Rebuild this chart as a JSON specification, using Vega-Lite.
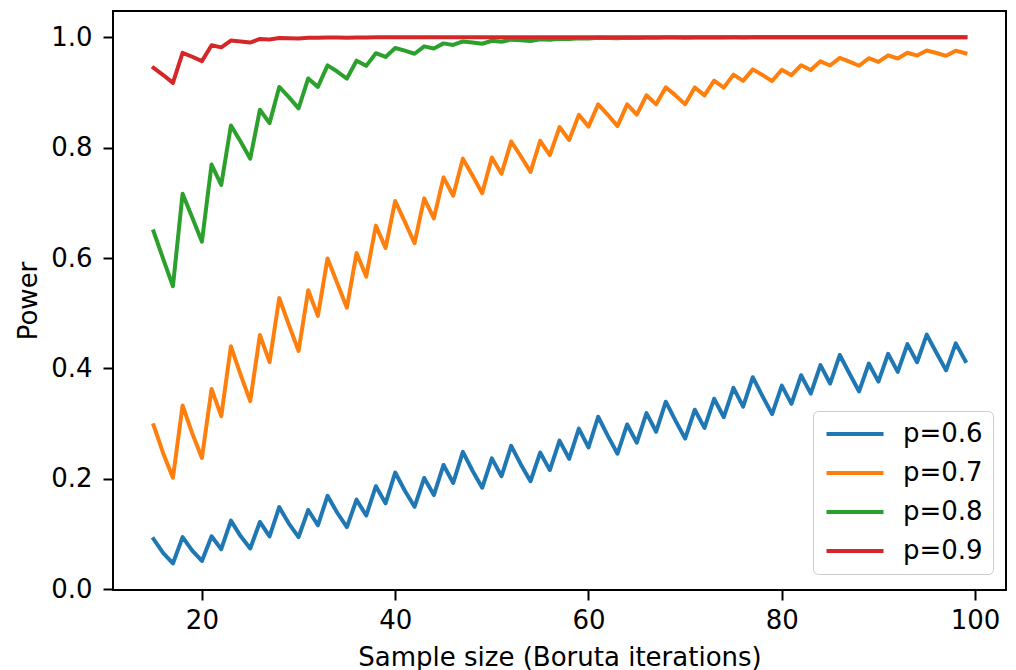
{
  "$schema": "https://vega.github.io/schema/vega-lite/v6.json",
  "width": 893,
  "height": 579,
  "autosize": "none",
  "padding": {"left": 113, "top": 11, "right": 10, "bottom": 80},
  "background": "white",
  "config": {
    "font": "DejaVu Sans",
    "view": {"stroke": "black", "strokeWidth": 2},
    "axis": {"grid": false, "domain": false, "tickColor": "black", "tickWidth": 2, "tickSize": 10, "labelColor": "black", "labelFontSize": 26, "titleFontSize": 26, "titleFontWeight": "normal", "titleColor": "black"}
  },
  "datasets": {
    "power": [
      {"n":15,"s":"p=0.6","v":0.0905},{"n":16,"s":"p=0.6","v":0.0651},{"n":17,"s":"p=0.6","v":0.0464},{"n":18,"s":"p=0.6","v":0.0942},{"n":19,"s":"p=0.6","v":0.0696},{"n":20,"s":"p=0.6","v":0.0510},{"n":21,"s":"p=0.6","v":0.0957},{"n":22,"s":"p=0.6","v":0.0722},{"n":23,"s":"p=0.6","v":0.1240},{"n":24,"s":"p=0.6","v":0.0960},{"n":25,"s":"p=0.6","v":0.0736},{"n":26,"s":"p=0.6","v":0.1216},{"n":27,"s":"p=0.6","v":0.0953},{"n":28,"s":"p=0.6","v":0.1485},{"n":29,"s":"p=0.6","v":0.1187},{"n":30,"s":"p=0.6","v":0.0940},{"n":31,"s":"p=0.6","v":0.1434},{"n":32,"s":"p=0.6","v":0.1156},{"n":33,"s":"p=0.6","v":0.1690},{"n":34,"s":"p=0.6","v":0.1383},{"n":35,"s":"p=0.6","v":0.1123},{"n":36,"s":"p=0.6","v":0.1620},{"n":37,"s":"p=0.6","v":0.1333},{"n":38,"s":"p=0.6","v":0.1864},{"n":39,"s":"p=0.6","v":0.1554},{"n":40,"s":"p=0.6","v":0.2112},{"n":41,"s":"p=0.6","v":0.1781},{"n":42,"s":"p=0.6","v":0.1491},{"n":43,"s":"p=0.6","v":0.2013},{"n":44,"s":"p=0.6","v":0.1703},{"n":45,"s":"p=0.6","v":0.2249},{"n":46,"s":"p=0.6","v":0.1922},{"n":47,"s":"p=0.6","v":0.2486},{"n":48,"s":"p=0.6","v":0.2144},{"n":49,"s":"p=0.6","v":0.1836},{"n":50,"s":"p=0.6","v":0.2369},{"n":51,"s":"p=0.6","v":0.2046},{"n":52,"s":"p=0.6","v":0.2595},{"n":53,"s":"p=0.6","v":0.2259},{"n":54,"s":"p=0.6","v":0.1954},{"n":55,"s":"p=0.6","v":0.2474},{"n":56,"s":"p=0.6","v":0.2156},{"n":57,"s":"p=0.6","v":0.2691},{"n":58,"s":"p=0.6","v":0.2361},{"n":59,"s":"p=0.6","v":0.2907},{"n":60,"s":"p=0.6","v":0.2568},{"n":61,"s":"p=0.6","v":0.3123},{"n":62,"s":"p=0.6","v":0.2776},{"n":63,"s":"p=0.6","v":0.2453},{"n":64,"s":"p=0.6","v":0.2983},{"n":65,"s":"p=0.6","v":0.2652},{"n":66,"s":"p=0.6","v":0.3190},{"n":67,"s":"p=0.6","v":0.2852},{"n":68,"s":"p=0.6","v":0.3396},{"n":69,"s":"p=0.6","v":0.3052},{"n":70,"s":"p=0.6","v":0.2728},{"n":71,"s":"p=0.6","v":0.3251},{"n":72,"s":"p=0.6","v":0.2921},{"n":73,"s":"p=0.6","v":0.3449},{"n":74,"s":"p=0.6","v":0.3114},{"n":75,"s":"p=0.6","v":0.3646},{"n":76,"s":"p=0.6","v":0.3306},{"n":77,"s":"p=0.6","v":0.3840},{"n":78,"s":"p=0.6","v":0.3498},{"n":79,"s":"p=0.6","v":0.3171},{"n":80,"s":"p=0.6","v":0.3687},{"n":81,"s":"p=0.6","v":0.3357},{"n":82,"s":"p=0.6","v":0.3875},{"n":83,"s":"p=0.6","v":0.3542},{"n":84,"s":"p=0.6","v":0.4060},{"n":85,"s":"p=0.6","v":0.3725},{"n":86,"s":"p=0.6","v":0.4243},{"n":87,"s":"p=0.6","v":0.3907},{"n":88,"s":"p=0.6","v":0.3582},{"n":89,"s":"p=0.6","v":0.4087},{"n":90,"s":"p=0.6","v":0.3760},{"n":91,"s":"p=0.6","v":0.4264},{"n":92,"s":"p=0.6","v":0.3936},{"n":93,"s":"p=0.6","v":0.4439},{"n":94,"s":"p=0.6","v":0.4111},{"n":95,"s":"p=0.6","v":0.4611},{"n":96,"s":"p=0.6","v":0.4283},{"n":97,"s":"p=0.6","v":0.3964},{"n":98,"s":"p=0.6","v":0.4453},{"n":99,"s":"p=0.6","v":0.4133},
      {"n":15,"s":"p=0.7","v":0.2969},{"n":16,"s":"p=0.7","v":0.2459},{"n":17,"s":"p=0.7","v":0.2019},{"n":18,"s":"p=0.7","v":0.3327},{"n":19,"s":"p=0.7","v":0.2822},{"n":20,"s":"p=0.7","v":0.2375},{"n":21,"s":"p=0.7","v":0.3627},{"n":22,"s":"p=0.7","v":0.3134},{"n":23,"s":"p=0.7","v":0.4399},{"n":24,"s":"p=0.7","v":0.3886},{"n":25,"s":"p=0.7","v":0.3407},{"n":26,"s":"p=0.7","v":0.4605},{"n":27,"s":"p=0.7","v":0.4113},{"n":28,"s":"p=0.7","v":0.5275},{"n":29,"s":"p=0.7","v":0.4787},{"n":30,"s":"p=0.7","v":0.4315},{"n":31,"s":"p=0.7","v":0.5416},{"n":32,"s":"p=0.7","v":0.4951},{"n":33,"s":"p=0.7","v":0.5993},{"n":34,"s":"p=0.7","v":0.5545},{"n":35,"s":"p=0.7","v":0.5100},{"n":36,"s":"p=0.7","v":0.6091},{"n":37,"s":"p=0.7","v":0.5663},{"n":38,"s":"p=0.7","v":0.6587},{"n":39,"s":"p=0.7","v":0.6182},{"n":40,"s":"p=0.7","v":0.7033},{"n":41,"s":"p=0.7","v":0.6654},{"n":42,"s":"p=0.7","v":0.6267},{"n":43,"s":"p=0.7","v":0.7081},{"n":44,"s":"p=0.7","v":0.6719},{"n":45,"s":"p=0.7","v":0.7462},{"n":46,"s":"p=0.7","v":0.7128},{"n":47,"s":"p=0.7","v":0.7801},{"n":48,"s":"p=0.7","v":0.7495},{"n":49,"s":"p=0.7","v":0.7173},{"n":50,"s":"p=0.7","v":0.7822},{"n":51,"s":"p=0.7","v":0.7527},{"n":52,"s":"p=0.7","v":0.8112},{"n":53,"s":"p=0.7","v":0.7844},{"n":54,"s":"p=0.7","v":0.7559},{"n":55,"s":"p=0.7","v":0.8125},{"n":56,"s":"p=0.7","v":0.7866},{"n":57,"s":"p=0.7","v":0.8374},{"n":58,"s":"p=0.7","v":0.8139},{"n":59,"s":"p=0.7","v":0.8594},{"n":60,"s":"p=0.7","v":0.8382},{"n":61,"s":"p=0.7","v":0.8786},{"n":62,"s":"p=0.7","v":0.8596},{"n":63,"s":"p=0.7","v":0.8391},{"n":64,"s":"p=0.7","v":0.8785},{"n":65,"s":"p=0.7","v":0.8600},{"n":66,"s":"p=0.7","v":0.8950},{"n":67,"s":"p=0.7","v":0.8785},{"n":68,"s":"p=0.7","v":0.9095},{"n":69,"s":"p=0.7","v":0.8948},{"n":70,"s":"p=0.7","v":0.8787},{"n":71,"s":"p=0.7","v":0.9091},{"n":72,"s":"p=0.7","v":0.8947},{"n":73,"s":"p=0.7","v":0.9215},{"n":74,"s":"p=0.7","v":0.9088},{"n":75,"s":"p=0.7","v":0.9324},{"n":76,"s":"p=0.7","v":0.9211},{"n":77,"s":"p=0.7","v":0.9419},{"n":78,"s":"p=0.7","v":0.9319},{"n":79,"s":"p=0.7","v":0.9207},{"n":80,"s":"p=0.7","v":0.9413},{"n":81,"s":"p=0.7","v":0.9314},{"n":82,"s":"p=0.7","v":0.9494},{"n":83,"s":"p=0.7","v":0.9407},{"n":84,"s":"p=0.7","v":0.9565},{"n":85,"s":"p=0.7","v":0.9489},{"n":86,"s":"p=0.7","v":0.9627},{"n":87,"s":"p=0.7","v":0.9560},{"n":88,"s":"p=0.7","v":0.9484},{"n":89,"s":"p=0.7","v":0.9621},{"n":90,"s":"p=0.7","v":0.9554},{"n":91,"s":"p=0.7","v":0.9674},{"n":92,"s":"p=0.7","v":0.9616},{"n":93,"s":"p=0.7","v":0.9720},{"n":94,"s":"p=0.7","v":0.9669},{"n":95,"s":"p=0.7","v":0.9760},{"n":96,"s":"p=0.7","v":0.9715},{"n":97,"s":"p=0.7","v":0.9665},{"n":98,"s":"p=0.7","v":0.9756},{"n":99,"s":"p=0.7","v":0.9711},
      {"n":15,"s":"p=0.8","v":0.6482},{"n":16,"s":"p=0.8","v":0.5981},{"n":17,"s":"p=0.8","v":0.5489},{"n":18,"s":"p=0.8","v":0.7164},{"n":19,"s":"p=0.8","v":0.6733},{"n":20,"s":"p=0.8","v":0.6296},{"n":21,"s":"p=0.8","v":0.7693},{"n":22,"s":"p=0.8","v":0.7326},{"n":23,"s":"p=0.8","v":0.8402},{"n":24,"s":"p=0.8","v":0.8111},{"n":25,"s":"p=0.8","v":0.7800},{"n":26,"s":"p=0.8","v":0.8687},{"n":27,"s":"p=0.8","v":0.8445},{"n":28,"s":"p=0.8","v":0.9100},{"n":29,"s":"p=0.8","v":0.8916},{"n":30,"s":"p=0.8","v":0.8713},{"n":31,"s":"p=0.8","v":0.9254},{"n":32,"s":"p=0.8","v":0.9102},{"n":33,"s":"p=0.8","v":0.9492},{"n":34,"s":"p=0.8","v":0.9380},{"n":35,"s":"p=0.8","v":0.9253},{"n":36,"s":"p=0.8","v":0.9576},{"n":37,"s":"p=0.8","v":0.9483},{"n":38,"s":"p=0.8","v":0.9712},{"n":39,"s":"p=0.8","v":0.9645},{"n":40,"s":"p=0.8","v":0.9806},{"n":41,"s":"p=0.8","v":0.9758},{"n":42,"s":"p=0.8","v":0.9702},{"n":43,"s":"p=0.8","v":0.9836},{"n":44,"s":"p=0.8","v":0.9797},{"n":45,"s":"p=0.8","v":0.9890},{"n":46,"s":"p=0.8","v":0.9862},{"n":47,"s":"p=0.8","v":0.9926},{"n":48,"s":"p=0.8","v":0.9907},{"n":49,"s":"p=0.8","v":0.9884},{"n":50,"s":"p=0.8","v":0.9938},{"n":51,"s":"p=0.8","v":0.9921},{"n":52,"s":"p=0.8","v":0.9958},{"n":53,"s":"p=0.8","v":0.9947},{"n":54,"s":"p=0.8","v":0.9933},{"n":55,"s":"p=0.8","v":0.9964},{"n":56,"s":"p=0.8","v":0.9955},{"n":57,"s":"p=0.8","v":0.9976},{"n":58,"s":"p=0.8","v":0.9970},{"n":59,"s":"p=0.8","v":0.9984},{"n":60,"s":"p=0.8","v":0.9980},{"n":61,"s":"p=0.8","v":0.9990},{"n":62,"s":"p=0.8","v":0.9987},{"n":63,"s":"p=0.8","v":0.9983},{"n":64,"s":"p=0.8","v":0.9991},{"n":65,"s":"p=0.8","v":0.9989},{"n":66,"s":"p=0.8","v":0.9994},{"n":67,"s":"p=0.8","v":0.9992},{"n":68,"s":"p=0.8","v":0.9996},{"n":69,"s":"p=0.8","v":0.9995},{"n":70,"s":"p=0.8","v":0.9994},{"n":71,"s":"p=0.8","v":0.9997},{"n":72,"s":"p=0.8","v":0.9996},{"n":73,"s":"p=0.8","v":0.9998},{"n":74,"s":"p=0.8","v":0.9997},{"n":75,"s":"p=0.8","v":0.9999},{"n":76,"s":"p=0.8","v":0.9998},{"n":77,"s":"p=0.8","v":0.9999},{"n":78,"s":"p=0.8","v":0.9999},{"n":79,"s":"p=0.8","v":0.9999},{"n":80,"s":"p=0.8","v":1.0},{"n":81,"s":"p=0.8","v":1.0},{"n":82,"s":"p=0.8","v":1.0},{"n":83,"s":"p=0.8","v":1.0},{"n":84,"s":"p=0.8","v":1.0},{"n":85,"s":"p=0.8","v":1.0},{"n":86,"s":"p=0.8","v":1.0},{"n":87,"s":"p=0.8","v":1.0},{"n":88,"s":"p=0.8","v":1.0},{"n":89,"s":"p=0.8","v":1.0},{"n":90,"s":"p=0.8","v":1.0},{"n":91,"s":"p=0.8","v":1.0},{"n":92,"s":"p=0.8","v":1.0},{"n":93,"s":"p=0.8","v":1.0},{"n":94,"s":"p=0.8","v":1.0},{"n":95,"s":"p=0.8","v":1.0},{"n":96,"s":"p=0.8","v":1.0},{"n":97,"s":"p=0.8","v":1.0},{"n":98,"s":"p=0.8","v":1.0},{"n":99,"s":"p=0.8","v":1.0},
      {"n":15,"s":"p=0.9","v":0.9445},{"n":16,"s":"p=0.9","v":0.9316},{"n":17,"s":"p=0.9","v":0.9174},{"n":18,"s":"p=0.9","v":0.9718},{"n":19,"s":"p=0.9","v":0.9648},{"n":20,"s":"p=0.9","v":0.9568},{"n":21,"s":"p=0.9","v":0.9856},{"n":22,"s":"p=0.9","v":0.9818},{"n":23,"s":"p=0.9","v":0.9942},{"n":24,"s":"p=0.9","v":0.9926},{"n":25,"s":"p=0.9","v":0.9906},{"n":26,"s":"p=0.9","v":0.9970},{"n":27,"s":"p=0.9","v":0.9961},{"n":28,"s":"p=0.9","v":0.9988},{"n":29,"s":"p=0.9","v":0.9985},{"n":30,"s":"p=0.9","v":0.9980},{"n":31,"s":"p=0.9","v":0.9994},{"n":32,"s":"p=0.9","v":0.9992},{"n":33,"s":"p=0.9","v":0.9997},{"n":34,"s":"p=0.9","v":0.9996},{"n":35,"s":"p=0.9","v":0.9994},{"n":36,"s":"p=0.9","v":0.9998},{"n":37,"s":"p=0.9","v":0.9998},{"n":38,"s":"p=0.9","v":0.9999},{"n":39,"s":"p=0.9","v":0.9999},{"n":40,"s":"p=0.9","v":1.0},{"n":41,"s":"p=0.9","v":1.0},{"n":42,"s":"p=0.9","v":1.0},{"n":43,"s":"p=0.9","v":1.0},{"n":44,"s":"p=0.9","v":1.0},{"n":45,"s":"p=0.9","v":1.0},{"n":46,"s":"p=0.9","v":1.0},{"n":47,"s":"p=0.9","v":1.0},{"n":48,"s":"p=0.9","v":1.0},{"n":49,"s":"p=0.9","v":1.0},{"n":50,"s":"p=0.9","v":1.0},{"n":51,"s":"p=0.9","v":1.0},{"n":52,"s":"p=0.9","v":1.0},{"n":53,"s":"p=0.9","v":1.0},{"n":54,"s":"p=0.9","v":1.0},{"n":55,"s":"p=0.9","v":1.0},{"n":56,"s":"p=0.9","v":1.0},{"n":57,"s":"p=0.9","v":1.0},{"n":58,"s":"p=0.9","v":1.0},{"n":59,"s":"p=0.9","v":1.0},{"n":60,"s":"p=0.9","v":1.0},{"n":61,"s":"p=0.9","v":1.0},{"n":62,"s":"p=0.9","v":1.0},{"n":63,"s":"p=0.9","v":1.0},{"n":64,"s":"p=0.9","v":1.0},{"n":65,"s":"p=0.9","v":1.0},{"n":66,"s":"p=0.9","v":1.0},{"n":67,"s":"p=0.9","v":1.0},{"n":68,"s":"p=0.9","v":1.0},{"n":69,"s":"p=0.9","v":1.0},{"n":70,"s":"p=0.9","v":1.0},{"n":71,"s":"p=0.9","v":1.0},{"n":72,"s":"p=0.9","v":1.0},{"n":73,"s":"p=0.9","v":1.0},{"n":74,"s":"p=0.9","v":1.0},{"n":75,"s":"p=0.9","v":1.0},{"n":76,"s":"p=0.9","v":1.0},{"n":77,"s":"p=0.9","v":1.0},{"n":78,"s":"p=0.9","v":1.0},{"n":79,"s":"p=0.9","v":1.0},{"n":80,"s":"p=0.9","v":1.0},{"n":81,"s":"p=0.9","v":1.0},{"n":82,"s":"p=0.9","v":1.0},{"n":83,"s":"p=0.9","v":1.0},{"n":84,"s":"p=0.9","v":1.0},{"n":85,"s":"p=0.9","v":1.0},{"n":86,"s":"p=0.9","v":1.0},{"n":87,"s":"p=0.9","v":1.0},{"n":88,"s":"p=0.9","v":1.0},{"n":89,"s":"p=0.9","v":1.0},{"n":90,"s":"p=0.9","v":1.0},{"n":91,"s":"p=0.9","v":1.0},{"n":92,"s":"p=0.9","v":1.0},{"n":93,"s":"p=0.9","v":1.0},{"n":94,"s":"p=0.9","v":1.0},{"n":95,"s":"p=0.9","v":1.0},{"n":96,"s":"p=0.9","v":1.0},{"n":97,"s":"p=0.9","v":1.0},{"n":98,"s":"p=0.9","v":1.0},{"n":99,"s":"p=0.9","v":1.0}
    ]
  },
  "data": {"name": "power"},
  "mark": {"type": "line", "strokeWidth": 4, "strokeJoin": "round", "strokeCap": "square"},
  "encoding": {
    "x": {"field": "n", "type": "quantitative",
      "scale": {"domain": [10.8, 103.2], "nice": false, "zero": false},
      "axis": {"values": [20, 40, 60, 80, 100], "format": "d", "title": "Sample size (Boruta iterations)", "labelPadding": 7, "titlePadding": 11}},
    "y": {"field": "v", "type": "quantitative",
      "scale": {"domain": [-0.0017, 1.0477], "nice": false, "zero": false},
      "axis": {"values": [0, 0.2, 0.4, 0.6, 0.8, 1.0], "format": ".1f", "title": "Power", "labelPadding": 11, "titlePadding": 9}},
    "color": {"field": "s", "type": "nominal",
      "scale": {"domain": ["p=0.6", "p=0.7", "p=0.8", "p=0.9"], "range": ["#1f77b4", "#ff7f0e", "#2ca02c", "#d62728"]},
      "legend": {"title": null, "orient": "none", "legendX": 700, "legendY": 400, "symbolType": "M-3,0L3,0", "symbolSize": 361, "symbolStrokeWidth": 4, "symbolOffset": 19, "labelOffset": 35, "labelFontSize": 26, "labelColor": "black", "rowPadding": 13, "padding": 10, "strokeColor": "#cccccc", "fillColor": "white", "cornerRadius": 5}}
  }
}
